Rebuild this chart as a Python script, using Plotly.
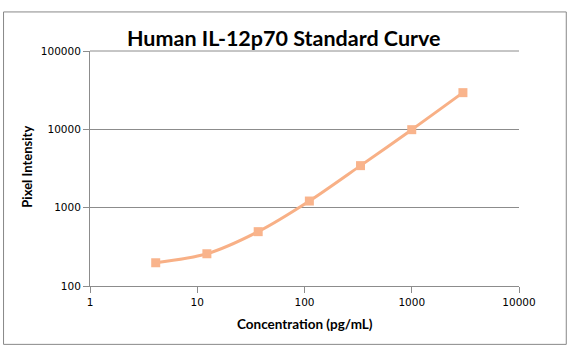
import plotly.graph_objects as go

concentration = [4.1, 12.3, 37, 111, 333, 1000, 3000]
intensity = [198, 258, 494, 1215, 3440, 9900, 29400]
x_ticks = [1, 10, 100, 1000, 10000]
y_ticks = [100, 1000, 10000, 100000]

W, H = 570, 362
L, R, T, B = 89.5, 518.7, 51.0, 285.7
pw, ph = R - L, B - T

def px(x):
    return (x - L) / pw

def py(y):
    return (B - y) / ph

fig = go.Figure()
fig.add_trace(go.Scatter(
    x=concentration, y=intensity, mode="lines+markers",
    line=dict(color="#F8B086", width=3, shape="spline", smoothing=0.8),
    marker=dict(symbol="square", size=9, color="#F9B48C"),
    showlegend=False,
))

axis_common = dict(
    type="log", showline=True, linecolor="#8C8C8C", linewidth=1,
    ticks="outside", ticklen=6, tickcolor="#8C8C8C", zeroline=False,
    tickfont=dict(family="DejaVu Sans", size=10.5, color="#000000"),
)
fig.update_xaxes(
    range=[0, 4], tickvals=x_ticks, ticktext=[str(v) for v in x_ticks],
    showgrid=False, **axis_common,
)
fig.update_yaxes(
    range=[2, 5], tickvals=y_ticks, ticktext=[str(v) for v in y_ticks],
    showgrid=True, gridcolor="#8C8C8C", gridwidth=1, **axis_common,
)

# top gridline (plotly drops gridlines lying on the range edge)
fig.add_shape(type="line", xref="paper", yref="paper", x0=0, x1=1, y0=1, y1=1,
              line=dict(color="#8C8C8C", width=1))

fig.add_shape(type="rect", xref="paper", yref="paper",
              x0=px(3), x1=px(566), y0=py(344), y1=py(12),
              line=dict(color="#888888", width=1), fillcolor="rgba(0,0,0,0)")

fig.add_annotation(text="<b>Human IL-12p70 Standard Curve</b>", xref="paper", yref="paper",
                   x=px(284), y=py(38), xanchor="center", yanchor="middle", showarrow=False,
                   font=dict(family="Lato", size=21.5, color="#000000"))
fig.add_annotation(text="<b>Concentration (pg/mL)</b>", xref="paper", yref="paper",
                   x=px(305), y=py(324), xanchor="center", yanchor="middle", showarrow=False,
                   font=dict(family="Lato", size=13.5, color="#000000"))
fig.add_annotation(text="<b>Pixel Intensity</b>", xref="paper", yref="paper",
                   x=px(27), y=py(167), xanchor="center", yanchor="middle", showarrow=False,
                   textangle=-90,
                   font=dict(family="Lato", size=13, color="#000000"))

fig.update_layout(
    width=W, height=H,
    margin=dict(l=L, r=W - R, t=T, b=H - B, pad=0),
    paper_bgcolor="white", plot_bgcolor="white",
)
fig.write_html("out.html", config={"displayModeBar": False},
               post_script="document.body.style.margin='0';document.body.style.padding='0';")
